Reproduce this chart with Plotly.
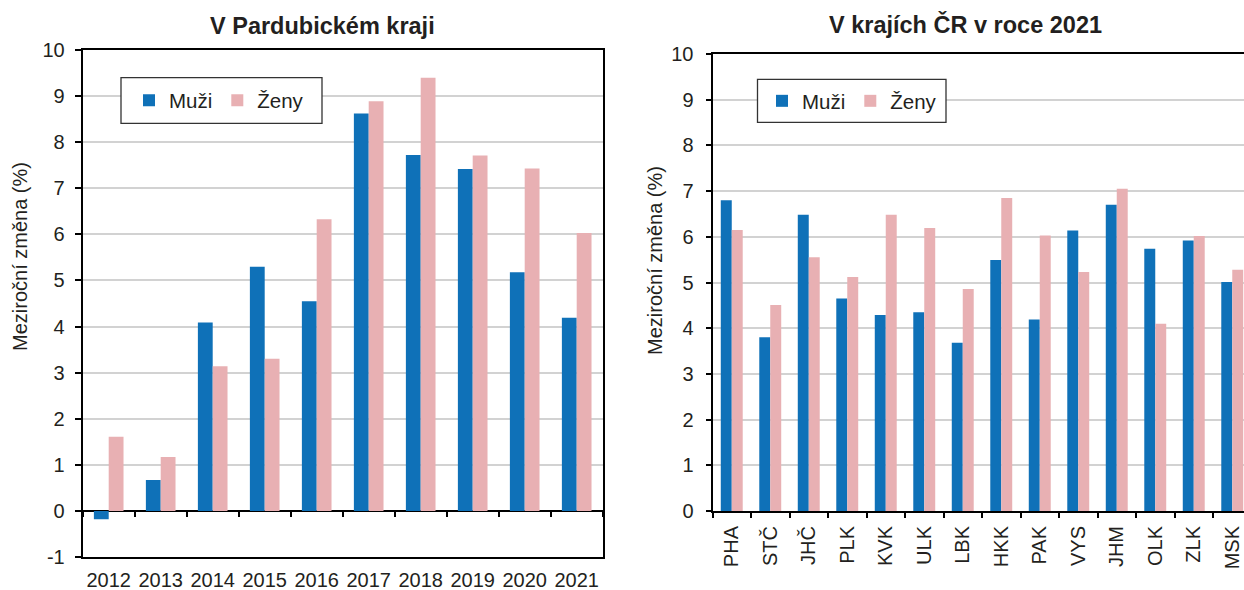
import plotly.graph_objects as go

# ---------------- data ----------------
years = ["2012", "2013", "2014", "2015", "2016", "2017", "2018", "2019", "2020", "2021"]
pk_muzi = [-0.18, 0.67, 4.09, 5.30, 4.55, 8.62, 7.72, 7.42, 5.18, 4.19]
pk_zeny = [1.61, 1.17, 3.14, 3.30, 6.33, 8.89, 9.40, 7.71, 7.43, 6.03]

regions = ["PHA", "STČ", "JHČ", "PLK", "KVK", "ULK", "LBK", "HKK", "PAK", "VYS", "JHM", "OLK", "ZLK", "MSK"]
kr_muzi = [6.80, 3.80, 6.48, 4.65, 4.29, 4.35, 3.68, 5.49, 4.19, 6.14, 6.70, 5.74, 5.92, 5.01]
kr_zeny = [6.15, 4.51, 5.55, 5.12, 6.48, 6.19, 4.86, 6.85, 6.03, 5.23, 7.05, 4.10, 6.02, 5.28]

series_names = ["Muži", "Ženy"]
title_left = "V Pardubickém kraji"
title_right = "V krajích ČR v roce 2021"
y_title = "Meziroční změna (%)"
left_ticks = list(range(-1, 11))
right_ticks = list(range(0, 11))

# ---------------- styling ----------------
W, H = 1244, 590
BLUE = "#0f71b8"
PINK = "#e8b0b3"
GRID = "#d2d2d2"
TXT = "#231f20"
FONT = "Liberation Sans, Arial, sans-serif"


def fx(px):
    return px / W


def fy(py):
    return 1 - py / H


# plot areas in pixels
L_x0, L_x1, L_y0, L_y1 = 82.7, 602.7, 50, 557
R_x0, R_x1, R_y0, R_y1 = 712.5, 1244, 54, 511
ZERO_Y = 511

fig = go.Figure()
fig.add_trace(go.Bar(x=years, y=pk_muzi, name=series_names[0], marker_color=BLUE,
                     marker_line_width=0, xaxis="x", yaxis="y", legend="legend"))
fig.add_trace(go.Bar(x=years, y=pk_zeny, name=series_names[1], marker_color=PINK,
                     marker_line_width=0, xaxis="x", yaxis="y", legend="legend"))
fig.add_trace(go.Bar(x=regions, y=kr_muzi, name=series_names[0], marker_color=BLUE,
                     marker_line_width=0, xaxis="x2", yaxis="y2", legend="legend2"))
fig.add_trace(go.Bar(x=regions, y=kr_zeny, name=series_names[1], marker_color=PINK,
                     marker_line_width=0, xaxis="x2", yaxis="y2", legend="legend2"))
# invisible helper to carry the category ticks on the zero line of the left chart
fig.add_trace(go.Scatter(x=years, y=pk_zeny, mode="markers", marker=dict(opacity=0),
                         xaxis="x3", yaxis="y", showlegend=False, hoverinfo="skip"))

tickfont = dict(family=FONT, size=20, color=TXT)

fig.update_layout(
    template="none",
    width=W, height=H, autosize=False,
    margin=dict(l=0, r=0, t=0, b=0, pad=0),
    paper_bgcolor="white", plot_bgcolor="white",
    font=dict(family=FONT, color=TXT),
    barmode="group", bargap=0.43, bargroupgap=0,
    hovermode=False,
    xaxis=dict(domain=[fx(L_x0), fx(L_x1)], anchor="y", type="category", automargin=False,
               range=[-0.5, len(years) - 0.5], showline=True, linecolor="black",
               linewidth=2, mirror=True, ticks="", showgrid=False, zeroline=False,
               tickfont=tickfont, ticklabelstandoff=4),
    yaxis=dict(domain=[fy(L_y1), fy(L_y0)], anchor="x", range=[-1, 10], automargin=False,
               tickmode="array", tickvals=left_ticks, ticktext=[str(v) for v in left_ticks],
               showline=True, linecolor="black", linewidth=2, mirror=True,
               ticks="outside", ticklen=6, tickwidth=1.5, tickcolor="black",
               showgrid=True, gridcolor=GRID, gridwidth=1.5,
               zeroline=True, zerolinecolor="black", zerolinewidth=2,
               tickfont=tickfont, ticklabelstandoff=6),
    xaxis3=dict(overlaying="x", anchor="free", position=fy(ZERO_Y), type="category",
                automargin=False, categoryorder="array", categoryarray=years,
                range=[-0.5, len(years) - 0.5], tickson="boundaries",
                ticks="outside", ticklen=5, tickwidth=1.5, tickcolor="black",
                showticklabels=False, showline=False, showgrid=False, zeroline=False),
    xaxis2=dict(domain=[fx(R_x0), fx(R_x1)], anchor="y2", type="category", automargin=False,
                range=[-0.5, len(regions) - 0.5 - (1251.5 - 1244) / 38.5],
                tickson="boundaries", ticks="outside", ticklen=5, tickwidth=1.5,
                tickcolor="black", tickangle=-90, showline=True, linecolor="black",
                linewidth=2, mirror=True, showgrid=False, zeroline=False,
                tickfont=tickfont, ticklabelstandoff=5),
    yaxis2=dict(domain=[fy(R_y1), fy(R_y0)], anchor="x2", range=[0, 10], automargin=False,
                tickmode="array", tickvals=right_ticks, ticktext=[str(v) for v in right_ticks],
                showline=True, linecolor="black", linewidth=2, mirror=False,
                ticks="outside", ticklen=5, tickwidth=1.5, tickcolor="black",
                showgrid=True, gridcolor=GRID, gridwidth=1.5, zeroline=False,
                tickfont=tickfont, ticklabelstandoff=8),
    legend=dict(orientation="h", x=fx(129), y=fy(100.5), xanchor="left", yanchor="middle",
                bgcolor="rgba(0,0,0,0)", borderwidth=0,
                font=dict(family=FONT, size=20.5, color=TXT)),
    legend2=dict(orientation="h", x=fx(762), y=fy(101), xanchor="left", yanchor="middle",
                 bgcolor="rgba(0,0,0,0)", borderwidth=0,
                 font=dict(family=FONT, size=20.5, color=TXT)),
)

# legend frames
for (x0, x1, y0, y1) in [(121, 322, 77.7, 123.3), (757.5, 946, 79.3, 122.3)]:
    fig.add_shape(type="rect", xref="paper", yref="paper",
                  x0=fx(x0), x1=fx(x1), y0=fy(y1), y1=fy(y0),
                  line=dict(color="#333333", width=1.3), fillcolor="white", layer="above")

# titles
fig.add_annotation(text=f"<b>{title_left}</b>", xref="paper", yref="paper",
                   x=fx(322), y=fy(26), xanchor="center", yanchor="middle", showarrow=False,
                   font=dict(family=FONT, size=23.5, color=TXT))
fig.add_annotation(text=f"<b>{title_right}</b>", xref="paper", yref="paper",
                   x=fx(965), y=fy(24), xanchor="center", yanchor="middle", showarrow=False,
                   font=dict(family=FONT, size=23.5, color=TXT))
# y-axis titles
fig.add_annotation(text=y_title, xref="paper", yref="paper", textangle=-90,
                   x=fx(20), y=fy(257), xanchor="center", yanchor="middle", showarrow=False,
                   font=dict(family=FONT, size=20, color=TXT))
fig.add_annotation(text=y_title, xref="paper", yref="paper", textangle=-90,
                   x=fx(655), y=fy(261), xanchor="center", yanchor="middle", showarrow=False,
                   font=dict(family=FONT, size=20, color=TXT))

fig.write_html("out.html", config={"displayModeBar": False},
               post_script="document.body.style.margin='0px';document.body.style.overflow='hidden';")
